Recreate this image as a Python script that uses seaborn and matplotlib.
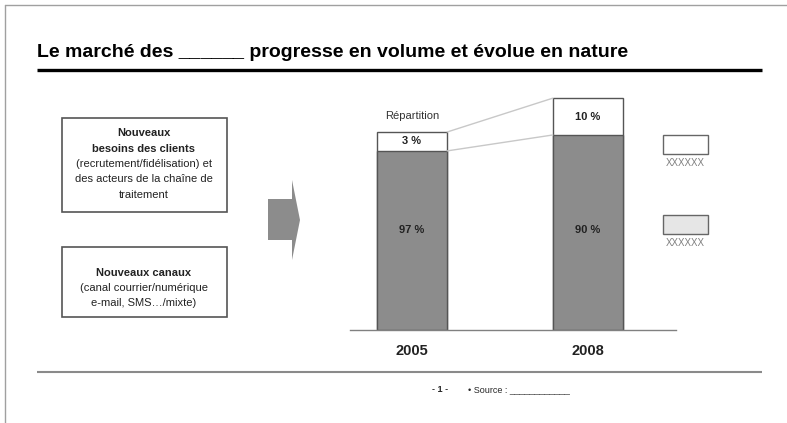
import matplotlib
matplotlib.use("Agg")
import matplotlib.pyplot as plt
import seaborn as sns
import pandas as pd
from matplotlib.patches import Rectangle, Polygon

# ------------------------------
# Data (segment heights, 2005 total ~ 100)
# ------------------------------
years = ["2005", "2008"]
dark_part = [90, 98]        # lower (grey) segment
light_part = [9.5, 18.5]    # upper (white) segment
dark_labels = ["97 %", "90 %"]
light_labels = ["3 %", "10 %"]
legend_labels = ["XXXXXX", "XXXXXX"]

df = pd.DataFrame({"year": years, "dark": dark_part, "light": light_part})
df["total"] = df["dark"] + df["light"]

sns.set_style("white")
plt.rcParams["font.family"] = ["Liberation Sans", "DejaVu Sans"]

W, H = 787, 423
fig = plt.figure(figsize=(W / 100, H / 100), dpi=100)

# background layer in pixel coordinates
bg = fig.add_axes([0, 0, 1, 1])
bg.set_xlim(0, W)
bg.set_ylim(H, 0)
bg.axis("off")

# page frame
bg.plot([5, W], [5, 5], color="#a0a0a0", lw=1)
bg.plot([5, 5], [5, H], color="#a0a0a0", lw=1)

# title + rules
bg.text(37, 57, "Le marché des ______ progresse en volume et évolue en nature",
        fontsize=14, fontweight="bold", va="baseline", ha="left", color="black")
bg.plot([37, 762], [70.5, 70.5], color="black", lw=2.4, solid_capstyle="butt")
bg.plot([37, 762], [372.5, 372.5], color="#8a8a8a", lw=1.5, solid_capstyle="butt")

# left boxes
bg.add_patch(Rectangle((62, 118), 165, 94, fill=False, ec="#555555", lw=1.2))
bg.add_patch(Rectangle((62, 247), 165, 70, fill=False, ec="#555555", lw=1.2))
box1 = [("Nouveaux", "bold"), ("besoins des clients", "bold"),
        ("(recrutement/fidélisation) et", "normal"),
        ("des acteurs de la chaîne de", "normal"), ("traitement", "normal")]
for i, (txt, fw) in enumerate(box1):
    bg.text(144, 133 + i * 15.5, txt, fontsize=8, fontweight=fw,
            ha="center", va="center", color="#222222")
box2 = [("Nouveaux canaux", "bold"), ("(canal courrier/numérique", "normal"),
        ("e-mail, SMS…/mixte)", "normal")]
for i, (txt, fw) in enumerate(box2):
    bg.text(144, 273 + i * 15, txt, fontsize=8, fontweight=fw,
            ha="center", va="center", color="#222222")

# arrow
bg.add_patch(Polygon([(268, 199), (292, 199), (292, 180), (300, 220),
                      (292, 260), (292, 240), (268, 240)],
                     closed=True, color="#8c8c8c", lw=0))

# legend boxes
bg.add_patch(Rectangle((663, 135), 45, 19, fc="white", ec="#666666", lw=1))
bg.add_patch(Rectangle((663, 215), 45, 19, fc="#e6e6e6", ec="#666666", lw=1))
bg.text(685, 163, legend_labels[0], fontsize=7, color="#808080", ha="center", va="center")
bg.text(685, 243, legend_labels[1], fontsize=7, color="#808080", ha="center", va="center")

# footer
bg.text(440, 390, "- 1 -", fontsize=6.5, fontweight="bold", ha="center", va="center")
bg.text(468, 390, "• Source : ____________", fontsize=6.5, ha="left", va="center")

# ------------------------------
# Stacked bar chart
# ------------------------------
ax = fig.add_axes([324 / W, 1 - 330 / H, 352 / W, 240 / H])
ax.patch.set_alpha(0)
bw = 0.4
sns.barplot(data=df, x="year", y="total", color="white", saturation=1,
            edgecolor="#555555", linewidth=1, width=bw, errorbar=None, ax=ax)
sns.barplot(data=df, x="year", y="dark", color="#8c8c8c", saturation=1,
            edgecolor="#555555", linewidth=1, width=bw, errorbar=None, ax=ax)

ax.set_xlim(-0.5, 1.5)
ax.set_ylim(0, 120.6)
for s in ["top", "right", "left"]:
    ax.spines[s].set_visible(False)
ax.spines["bottom"].set_color("#808080")
ax.spines["bottom"].set_linewidth(1)
ax.spines["bottom"].set_bounds(-0.35, 1.5)
ax.set_yticks([])
ax.set_xlabel("")
ax.set_ylabel("")
ax.set_xticks([0, 1])
ax.set_xticklabels(years, fontsize=10.5, fontweight="bold", color="#222222")
ax.tick_params(axis="x", length=0, pad=10)
ax.set_xticks([0.5, 1.5], minor=True)
ax.tick_params(axis="x", which="minor", length=3, color="#808080", direction="out")

# connector lines between bars
ax.plot([bw / 2, 1 - bw / 2], [df["total"][0], df["total"][1]],
        color="#c8c8c8", lw=1, clip_on=False)
ax.plot([bw / 2, 1 - bw / 2], [df["dark"][0], df["dark"][1]],
        color="#c8c8c8", lw=1, clip_on=False)

for i in range(len(years)):
    ax.text(i, 50, dark_labels[i], ha="center", va="center",
            fontsize=8, fontweight="bold", color="#222222")
    ax.text(i, dark_part[i] + light_part[i] / 2, light_labels[i], ha="center",
            va="center", fontsize=8, fontweight="bold", color="#222222")

ax.text(0, df["total"][0] + 8, "Répartition", ha="center", va="center",
        fontsize=8, color="#333333")

fig.savefig("out.png", dpi=100)
